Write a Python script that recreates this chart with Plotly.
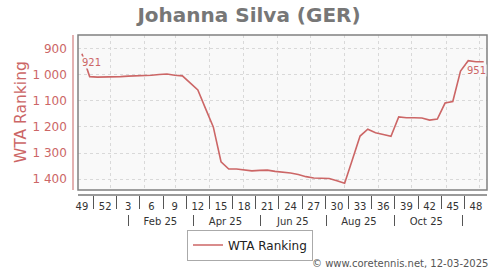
import pandas as pd
import plotly.graph_objects as go

# ---------------- data ----------------
start_date = "2024-12-06"
ranking = [921, 1008, 1010, 1010, 1009, 1008, 1006, 1005, 1005, 1003,
           1000, 998, 1003, 1005, 1032, 1059, 1130, 1200, 1333, 1361,
           1361, 1364, 1368, 1366, 1365, 1370, 1373, 1376, 1382, 1390,
           1395, 1396, 1397, 1406, 1415, 1325, 1235, 1209, 1222, 1229,
           1236, 1162, 1165, 1165, 1166, 1174, 1170, 1109, 1103, 987,
           947, 951, 951]
week_labels = ["49", "52", "3", "6", "9", "12", "15", "18", "21", "24",
               "27", "30", "33", "36", "39", "42", "45", "48"]
month_labels = ["Feb 25", "Apr 25", "Jun 25", "Aug 25", "Oct 25"]
month_label_dates = ["2025-02-15", "2025-04-15", "2025-06-15", "2025-08-14", "2025-10-14"]
month_sep_dates = ["2025-01-17", "2025-03-17", "2025-05-17", "2025-07-16", "2025-09-15", "2025-11-16"]
grid_month_dates = pd.date_range("2025-01-01", "2025-12-01", freq="MS")
y_ticks = [900, 1000, 1100, 1200, 1300, 1400]
y_ticktext = ["900", "1 000", "1 100", "1 200", "1 300", "1 400"]

dates = pd.date_range(start_date, periods=len(ranking), freq="7D")
week_tick_dates = dates[::3][:len(week_labels)]
week_sep_dates = [d + pd.Timedelta(days=10.5) for d in week_tick_dates[:-1]]

x_range = [pd.Timestamp("2024-12-02 10:00"), pd.Timestamp("2025-12-08 00:00")]

RED = "#cc6666"
W, H = 500, 270
ml, mr, mt, mb = 0, 13, 35, 0
gw, gh = W - ml - mr, H - mt - mb

def px_x(x):
    return (x - ml) / gw

def px_y(y):
    return (H - mb - y) / gh

fig = go.Figure()
fig.add_trace(go.Scatter(x=dates, y=ranking, mode="lines", name="WTA Ranking",
                         line=dict(color=RED, width=1.6)))
# invisible helpers so the extra label axes are created
for ax in ("x2", "x3"):
    fig.add_trace(go.Scatter(x=dates[:1], y=ranking[:1], xaxis=ax, yaxis="y",
                             mode="markers", marker=dict(opacity=0), showlegend=False,
                             hoverinfo="skip"))

grid = dict(gridcolor="#d9d9d9", griddash="3px,3px", gridwidth=1)

fig.update_layout(
    width=W, height=H,
    margin=dict(l=ml, r=mr, t=mt, b=mb, autoexpand=False),
    paper_bgcolor="white", plot_bgcolor="#f9f9f9",
    font=dict(family="DejaVu Sans", color="#333"),
    title=dict(text="<b>Johanna Silva (GER)</b>", x=249 / W, xanchor="center",
               y=1 - 15 / H, yanchor="middle",
               font=dict(size=20, color="#777777", family="DejaVu Sans")),
    xaxis=dict(type="date", domain=[px_x(78), 1], range=x_range, anchor="y",
               tickmode="array", tickvals=grid_month_dates, showticklabels=False,
               ticks="", showline=False, zeroline=False, showgrid=True, **grid),
    xaxis2=dict(type="date", overlaying="x", anchor="free", position=px_y(195),
                range=x_range, tickmode="array", tickvals=week_tick_dates,
                ticktext=week_labels, ticks="", showgrid=False, ticklabelstandoff=2,
                showline=True, linecolor="#9a9a9a", linewidth=1.5,
                tickfont=dict(size=10, color="#333"),
                minor=dict(tickmode="array", tickvals=week_sep_dates, ticks="outside",
                           ticklen=13, tickwidth=1, tickcolor="#555", showgrid=False)),
    xaxis3=dict(type="date", overlaying="x", anchor="free", position=px_y(214),
                range=x_range, tickmode="array", tickvals=month_label_dates,
                ticktext=month_labels, ticks="", showgrid=False, showline=False,
                tickfont=dict(size=10, color="#333"),
                minor=dict(tickmode="array", tickvals=month_sep_dates, ticks="outside",
                           ticklen=11, tickwidth=1, tickcolor="#555", showgrid=False)),
    yaxis=dict(domain=[px_y(190), 1], range=[1441, 849], anchor="free",
               position=px_x(73), tickmode="array", tickvals=y_ticks,
               ticktext=y_ticktext, ticks="", showline=True, linecolor="#e3b1b1",
               linewidth=1.5, zeroline=False, showgrid=True, ticklabelstandoff=3,
               tickfont=dict(size=12, color=RED), **grid),
    legend=dict(orientation="h", x=250 / gw, xanchor="center", y=px_y(245),
                yanchor="middle", bgcolor="white", bordercolor="#aaaaaa",
                borderwidth=1, itemwidth=30, font=dict(size=12, color="#222")),
    showlegend=True,
)

# plot box
fig.add_shape(type="rect", xref="x domain", yref="y domain", x0=0, x1=1, y0=0, y1=1,
              line=dict(color="#808080", width=1.5), layer="above")

# axis title
fig.add_annotation(text="WTA Ranking", xref="paper", yref="paper", x=px_x(21), y=px_y(112),
                   textangle=-90, showarrow=False, font=dict(size=15.5, color=RED),
                   xanchor="center", yanchor="middle")

# value labels
fig.add_annotation(text=str(ranking[0]), x=dates[0], y=ranking[0], xref="x", yref="y",
                   showarrow=False, xanchor="left", yanchor="top", yshift=-2, xshift=-1,
                   font=dict(size=10, color=RED), bgcolor="#f9f9f9", borderpad=0)
fig.add_annotation(text=str(ranking[-1]), x=dates[-1], y=ranking[-1], xref="x", yref="y",
                   showarrow=False, xanchor="right", yanchor="top", yshift=-2, xshift=3,
                   font=dict(size=10, color=RED), bgcolor="#f9f9f9", borderpad=0)

# copyright
fig.add_annotation(text="© www.coretennis.net, 12-03-2025", xref="paper", yref="paper",
                   x=px_x(490), y=px_y(263), xanchor="right", yanchor="middle",
                   showarrow=False, font=dict(size=10, color="#555"))

fig.write_html("out.html")
